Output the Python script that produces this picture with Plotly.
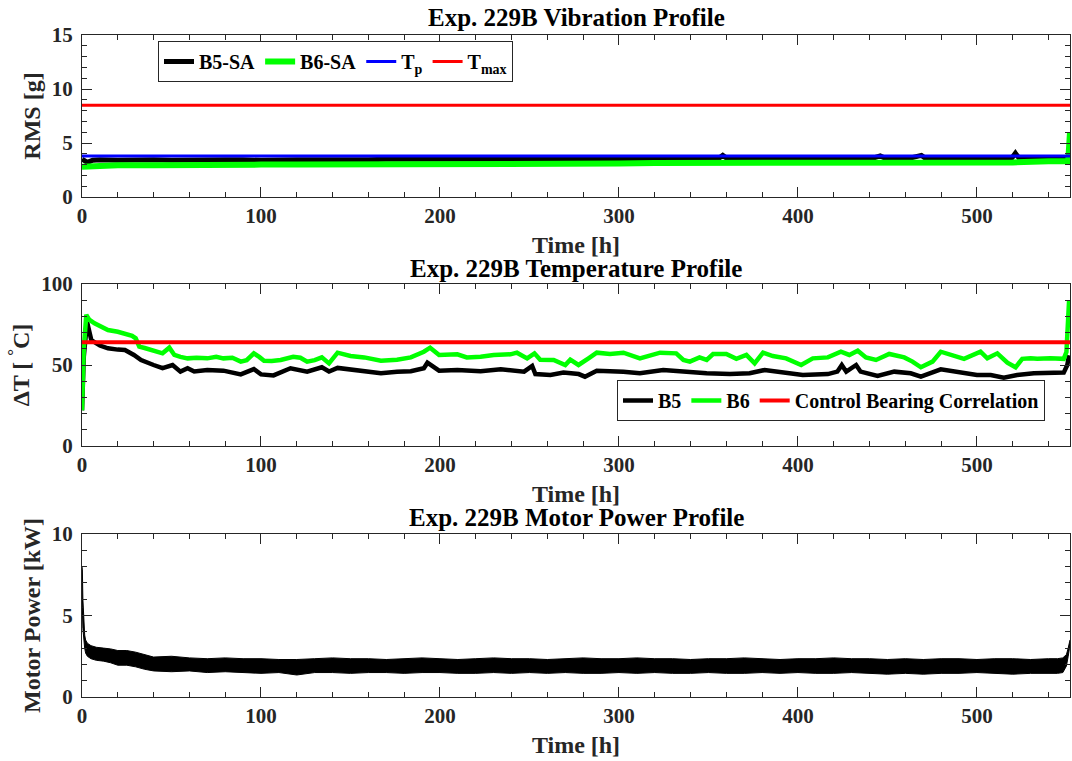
import plotly.graph_objects as go

FONT = "Liberation Serif"
AXC = "#262626"

# ---------------- Data ----------------
# Vibration profile (RMS [g])
vib_b5_h = [0, 3, 6, 10, 20, 30, 40, 50, 60, 70, 80, 90, 100, 120, 140, 160, 170, 180, 200, 220,
            240, 260, 280, 300, 320, 340, 355, 358, 361, 380, 400, 420, 440, 446, 450, 460, 469,
            472, 480, 500, 519, 521.5, 524, 540, 550, 552]
vib_b5 = [3.5, 3.2, 3.4, 3.45, 3.4, 3.45, 3.45, 3.4, 3.45, 3.4, 3.45, 3.45, 3.4, 3.45, 3.4, 3.45,
          3.5, 3.5, 3.5, 3.5, 3.5, 3.5, 3.45, 3.45, 3.5, 3.45, 3.5, 3.85, 3.5, 3.5, 3.5, 3.5, 3.5,
          3.8, 3.5, 3.5, 3.85, 3.5, 3.5, 3.5, 3.5, 4.05, 3.5, 3.5, 3.5, 3.6]
vib_b6_h = [0, 5, 10, 20, 40, 60, 80, 100, 120, 140, 160, 180, 200, 220, 240, 260, 280, 300, 320,
            340, 360, 380, 400, 420, 440, 460, 480, 500, 520, 540, 550, 551, 552]
vib_b6 = [2.8, 2.85, 2.9, 2.95, 2.95, 3.0, 3.0, 3.0, 3.0, 3.0, 3.05, 3.1, 3.05, 3.1, 3.1, 3.1,
          3.05, 3.1, 3.15, 3.15, 3.1, 3.15, 3.15, 3.15, 3.2, 3.15, 3.2, 3.15, 3.2, 3.3, 3.3, 3.3, 6.0]
T_p = 3.8
T_max = 8.5

# Temperature profile (dT [C])
b6_h = [0, 1, 2.4, 4, 7, 10, 14.5, 20, 24, 28, 30, 32, 35, 38.6, 42, 45, 48.8, 51.6, 55, 59, 64,
        70, 75, 79, 84, 88.7, 92, 96, 99, 101.7, 106, 111, 118, 122, 125.8, 130, 134, 138, 142.8,
        150, 157.7, 167, 176, 183.7, 191, 194.5, 199.5, 206, 209.7, 215, 222.7, 230, 239.4, 243,
        248.7, 252.8, 256, 263.5, 270, 272.8, 277.4, 283, 287.6, 295, 302.5, 311.7, 323, 332,
        336, 339.6, 345, 349, 352.6, 360, 365.6, 371.2, 375.8, 380.5, 386, 393.4, 401.8, 408.3,
        416.7, 424, 428.7, 433.4, 438, 443.6, 451, 459.4, 464, 468.7, 475.2, 479.8, 485.4,
        492.8, 502, 505.8, 511.4, 517, 521.6, 525.3, 530, 533.7, 541, 548.5, 550, 551.5]
b6_t = [22, 60, 81, 78, 75.7, 74, 71.6, 70.5, 69.5, 68, 66.5, 61.3, 60.5, 59.3, 58, 57.2, 60.7,
        56.2, 55, 54.1, 54.5, 54.1, 55, 54.1, 54.5, 52.1, 53, 57.2, 55, 52.6, 52.5, 53.1, 55.1,
        54.5, 52.1, 53, 54.7, 51, 57.6, 55.6, 54.7, 52.7, 53.3, 54.7, 58.2, 60.7, 56.2, 56.2,
        56.6, 54.7, 55.1, 56.2, 56.6, 57.6, 54.1, 57.2, 53.3, 53.1, 50, 53.3, 50, 54.1, 57.6,
        56.8, 57.6, 54.1, 57.6, 57.2, 53.1, 52.1, 54.7, 53.1, 56.8, 56.8, 53.8, 56.2, 51, 57.6,
        55.5, 54.1, 50, 54.1, 54.7, 58.2, 56.2, 58.8, 54.7, 53.1, 56.8, 54.7, 52.1, 48.6, 52.1,
        58.2, 56.2, 53.8, 58.2, 54.1, 57.2, 51.4, 48.6, 53.8, 54.1, 53.8, 54.1, 53.8, 58, 90]
b5_h = [0, 1, 2.8, 4, 5.2, 10, 14.5, 20, 24, 29, 33, 40, 45, 50.6, 55, 59, 62.7, 70, 79, 88.7,
        96, 100, 107, 116.5, 125.8, 134, 138, 142.8, 150, 157.7, 167, 176, 183.7, 191, 193,
        199.5, 209.7, 222.7, 234, 247, 251.5, 253.3, 261.7, 269, 277.5, 281, 287.6, 302.5,
        311.7, 324.7, 336, 349, 362, 373, 381.4, 393.4, 402.7, 416.7, 422, 424.5, 427, 432.5,
        435, 444.5, 453.8, 463, 468.7, 479.8, 491, 500, 507.7, 515, 522.5, 531.8, 548.5, 550.5,
        551.5]
b5_t = [22, 55, 76.7, 70, 65.4, 62, 60.3, 59.5, 59.3, 56.2, 53.1, 50, 48, 50, 45.9, 48, 46,
        46.9, 46.5, 44.2, 47.5, 44.2, 43.6, 48, 45.9, 48.6, 46, 48.2, 47.3, 46.5, 44.9, 45.9,
        46.2, 48, 51.4, 46.5, 46.9, 46.2, 47.3, 45.9, 49.4, 44.4, 43.8, 45.3, 44.4, 42.8, 46.5,
        45.9, 44.9, 46.9, 45.9, 44.9, 44.5, 44.9, 46.9, 44.9, 43.8, 44.4, 45.9, 50, 45.9, 50,
        45.9, 43.2, 45.9, 44.9, 42.8, 47.3, 45.3, 43.8, 43.8, 42.2, 43.8, 44.9, 45.3, 50, 56]
T_ctrl = 64

# Motor power profile [kW] (upper / lower envelope of the noisy signal)
pw_h = [0, 0.2, 0.5, 1, 1.5, 2, 3, 5, 8, 12, 16, 20, 25, 30, 35,
        40, 50, 60, 70, 80, 90, 100, 110, 120, 130, 140, 150, 160, 170, 180, 190, 200, 210,
        220, 230, 240, 250, 260, 270, 280, 290, 300, 310, 320, 330, 340, 350, 360, 370, 380,
        390, 400, 410, 420, 430, 440, 450, 460, 470, 480, 490, 500, 510, 520, 530, 540,
        545, 548, 550, 551, 552]
pw_hi = [8.0, 7.8, 6.0, 4.5, 3.8, 3.5, 3.3, 3.15, 3.05, 3.0, 2.95, 2.85, 2.85, 2.75, 2.6,
         2.45, 2.5, 2.4, 2.35, 2.4, 2.35, 2.35, 2.3, 2.3, 2.35, 2.4, 2.35, 2.35, 2.3, 2.35,
         2.4, 2.35, 2.3, 2.35, 2.4, 2.35, 2.35, 2.3, 2.35, 2.4, 2.35, 2.35, 2.4, 2.35, 2.35,
         2.3, 2.35, 2.35, 2.4, 2.35, 2.3, 2.35, 2.35, 2.4, 2.35, 2.35, 2.3, 2.35, 2.3, 2.35,
         2.35, 2.3, 2.35, 2.35, 2.3, 2.35, 2.35, 2.4, 2.6, 3.0, 3.5]
pw_lo = [5.8, 5.5, 4.2, 3.5, 3.0, 2.7, 2.5, 2.35, 2.25, 2.2, 2.1, 1.95, 1.95, 1.85, 1.7,
         1.6, 1.55, 1.6, 1.5, 1.55, 1.5, 1.45, 1.5, 1.35, 1.5, 1.5, 1.45, 1.5, 1.5, 1.45,
         1.5, 1.5, 1.45, 1.45, 1.5, 1.45, 1.5, 1.45, 1.5, 1.45, 1.45, 1.5, 1.45, 1.5, 1.45,
         1.45, 1.5, 1.45, 1.45, 1.5, 1.45, 1.5, 1.45, 1.45, 1.5, 1.45, 1.4, 1.45, 1.4, 1.45,
         1.45, 1.5, 1.45, 1.4, 1.45, 1.45, 1.45, 1.5, 1.9, 2.5, 3.2]

X_MAX = 552
W, H = 1072, 761

# ---------------- Figure ----------------
fig = go.Figure()

# Vibration
fig.add_trace(go.Scatter(x=vib_b5_h, y=vib_b5, mode="lines", name="B5-SA",
                         line=dict(color="black", width=5), xaxis="x", yaxis="y", legend="legend"))
fig.add_trace(go.Scatter(x=vib_b6_h, y=vib_b6, mode="lines", name="B6-SA",
                         line=dict(color="#00ff00", width=6), xaxis="x", yaxis="y", legend="legend"))
fig.add_trace(go.Scatter(x=[0, X_MAX], y=[T_p, T_p], mode="lines", name="T<sub>p</sub>",
                         line=dict(color="#0000ff", width=3), xaxis="x", yaxis="y", legend="legend"))
fig.add_trace(go.Scatter(x=[0, X_MAX], y=[T_max, T_max], mode="lines", name="T<sub>max</sub>",
                         line=dict(color="#ff0000", width=3), xaxis="x", yaxis="y", legend="legend"))

# Temperature
fig.add_trace(go.Scatter(x=b5_h, y=b5_t, mode="lines", name="B5",
                         line=dict(color="black", width=4.5), xaxis="x2", yaxis="y2", legend="legend2"))
fig.add_trace(go.Scatter(x=b6_h, y=b6_t, mode="lines", name="B6",
                         line=dict(color="#00ff00", width=4.5), xaxis="x2", yaxis="y2", legend="legend2"))
fig.add_trace(go.Scatter(x=[0, X_MAX], y=[T_ctrl, T_ctrl], mode="lines",
                         name="Control Bearing Correlation",
                         line=dict(color="#ff0000", width=4), xaxis="x2", yaxis="y2", legend="legend2"))

# Motor power
fig.add_trace(go.Scatter(x=pw_h, y=pw_lo, mode="lines", showlegend=False,
                         line=dict(color="black", width=1), xaxis="x3", yaxis="y3"))
fig.add_trace(go.Scatter(x=pw_h, y=pw_hi, mode="lines", showlegend=False, fill="tonexty",
                         fillcolor="black", line=dict(color="black", width=1),
                         xaxis="x3", yaxis="y3"))

ML, MR = 82, 2


def dom(top, bottom):
    return [1 - bottom / H, 1 - top / H]


tickfont = dict(family=FONT, size=21, color=AXC, weight="bold")
titlefont = dict(family=FONT, size=24, color=AXC, weight="bold")


def xax(anchor, title):
    return dict(anchor=anchor, domain=[0, 1], range=[0, X_MAX], showline=True, linecolor=AXC,
                linewidth=1, mirror="ticks", ticks="inside", ticklen=10, tickcolor=AXC,
                showgrid=False, zeroline=False, tickmode="linear", tick0=0, dtick=100,
                tickfont=tickfont, automargin=False,
                minor=dict(ticks="inside", ticklen=5, tickcolor=AXC, dtick=20, tick0=0,
                           showgrid=False),
                title=dict(text=title, font=titlefont, standoff=8))


def yax(anchor, d, rng, major, minor, title):
    return dict(anchor=anchor, domain=d, range=rng, showline=True, linecolor=AXC, linewidth=1,
                mirror="ticks", ticks="inside", ticklen=10, tickcolor=AXC, showgrid=False,
                zeroline=False, tickmode="linear", tick0=0, dtick=major, tickfont=tickfont,
                automargin=False, ticklabelstandoff=4,
                minor=dict(ticks="inside", ticklen=5, tickcolor=AXC, dtick=minor, tick0=0,
                           showgrid=False),
                title=dict(text=title, font=titlefont, standoff=4))


legfont = dict(family=FONT, size=20, color="black", weight="bold")

fig.update_layout(
    width=W, height=H,
    margin=dict(l=ML, r=MR, t=0, b=0, autoexpand=False),
    paper_bgcolor="white", plot_bgcolor="white",
    font=dict(family=FONT, color="black", weight="bold"),
    xaxis=xax("y", "Time [h]"),
    xaxis2=xax("y2", "Time [h]"),
    xaxis3=xax("y3", "Time [h]"),
    yaxis=yax("x", dom(35, 197), [0, 15], 5, 1, "RMS [g]"),
    yaxis2=yax("x2", dom(284, 446), [0, 100], 50, 10, "ΔT [ <sup>°</sup>C]"),
    yaxis3=yax("x3", dom(534, 697), [0, 10], 5, 1, "Motor Power [kW]"),
    legend=dict(orientation="h", x=(158 - ML) / (W - ML - MR), y=1 - 41 / H,
                xanchor="left", yanchor="top", bordercolor=AXC, borderwidth=1,
                bgcolor="white", font=legfont, itemwidth=30, tracegroupgap=0,
                traceorder="normal"),
    legend2=dict(orientation="h", x=(617 - ML) / (W - ML - MR), y=1 - 380 / H,
                 xanchor="left", yanchor="top", bordercolor=AXC, borderwidth=1,
                 bgcolor="white", font=legfont, itemwidth=30, tracegroupgap=0,
                 traceorder="normal"),
    showlegend=True,
    annotations=[
        dict(text="Exp. 229B Vibration Profile", x=0.5, y=1 - 17 / H, xref="paper",
             yref="paper", showarrow=False, xanchor="center", yanchor="middle",
             font=dict(family=FONT, size=25, color="black", weight="bold")),
        dict(text="Exp. 229B Temperature Profile", x=0.5, y=1 - 268 / H, xref="paper",
             yref="paper", showarrow=False, xanchor="center", yanchor="middle",
             font=dict(family=FONT, size=25, color="black", weight="bold")),
        dict(text="Exp. 229B Motor Power Profile", x=0.5, y=1 - 517 / H, xref="paper",
             yref="paper", showarrow=False, xanchor="center", yanchor="middle",
             font=dict(family=FONT, size=25, color="black", weight="bold")),
    ],
)

fig.write_html("out.html")
